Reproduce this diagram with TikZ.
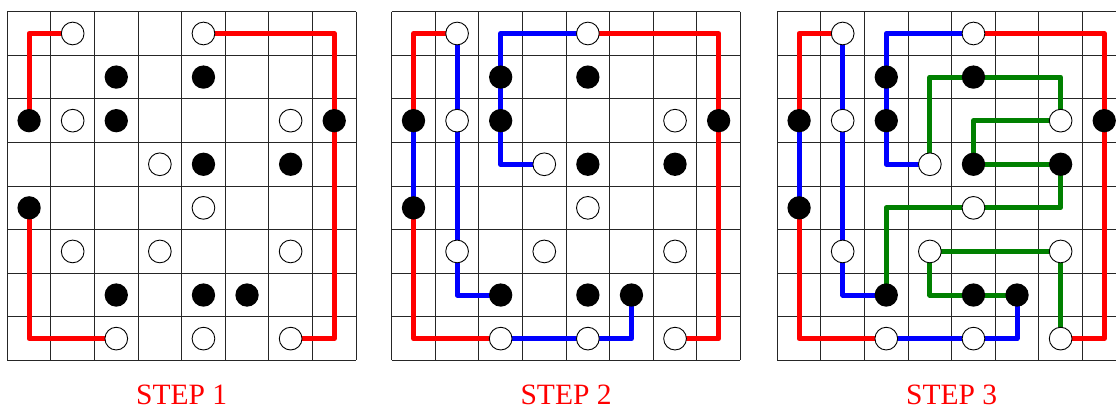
\documentclass[tikz,border=0pt]{standalone}
\usepackage{fontspec}
\setmainfont{Liberation Serif}
\tikzset{
  gridline/.style={line width=0.9pt, black!85},
  redpath/.style={line width=5pt, red, line join=round},
  bluepath/.style={line width=5pt, blue, line join=round},
  greenpath/.style={line width=5pt, green!50!black, line join=round},
  whitestone/.style={circle, draw=black, fill=white, line width=0.9pt, minimum size=22.7pt, inner sep=0pt},
  blackstone/.style={circle, fill=black, minimum size=23.3pt, inner sep=0pt},
  steplabel/.style={text=red, font=\fontsize{29.5}{32}\selectfont, anchor=base, inner sep=0pt},
}
\newcommand\boardcells[1]{%
  \foreach \i in {0,...,8}{\draw[gridline] (\i,0) -- (\i,8); \draw[gridline] (0,\i) -- (8,\i);}%
  \foreach \c in {1,...,8}{\foreach \r in {1,...,8}{\coordinate (#1-\c-\r) at (\c-0.5,\r-0.5);}}%
}
\newcommand\boardstones[1]{%
  \foreach \c/\r in {2/1,5/1,2/3,7/3,4/4,5/5,2/6,4/6,7/6,3/8,5/8,7/8}{\node[whitestone] (#1-w-\c-\r) at (#1-\c-\r) {};}%
  \foreach \c/\r in {3/2,5/2,1/3,3/3,8/3,5/4,7/4,1/5,3/7,5/7,6/7}{\node[blackstone] (#1-b-\c-\r) at (#1-\c-\r) {};}%
}
\newcommand\redpaths[1]{%
  \draw[redpath] (#1-2-1) -| (#1-1-3);
  \draw[redpath] (#1-5-1) -| (#1-8-8) -- (#1-7-8);
  \draw[redpath] (#1-1-5) |- (#1-3-8);
}
\newcommand\bluepaths[1]{%
  \draw[bluepath] (#1-2-1) |- (#1-3-7);
  \draw[bluepath] (#1-5-1) -| (#1-3-4) -- (#1-4-4);
  \draw[bluepath] (#1-1-3) -- (#1-1-5);
  \draw[bluepath] (#1-3-8) -| (#1-6-7);
}
\begin{document}
\begin{tikzpicture}[x=1pt,y=-1pt]
\clip (0,0) rectangle (1116,409);
\fill[white] (0,0) rectangle (1116,409);
% Step 1
\begin{scope}[shift={(7.3,11.7)}, x=43.59pt, y=-43.59pt]
  \boardcells{A}
  \redpaths{A}
  \boardstones{A}
  \node[steplabel] (labA) at (4,9) {STEP 1};
\end{scope}
% Step 2
\begin{scope}[shift={(391.7,11.7)}, x=43.59pt, y=-43.59pt]
  \boardcells{B}
  \redpaths{B}
  \bluepaths{B}
  \boardstones{B}
  \node[steplabel] (labB) at (4,9) {STEP 2};
\end{scope}
% Step 3
\begin{scope}[shift={(777.3,11.7)}, x=43.59pt, y=-43.59pt]
  \boardcells{C}
  \redpaths{C}
  \bluepaths{C}
  \draw[greenpath] (C-4-4) |- (C-7-2) -- (C-7-3) -| (C-5-4) -- (C-7-4) -- (C-7-5) -| (C-3-7);
  \draw[greenpath] (C-7-8) -- (C-7-6) -- (C-4-6) |- (C-6-7);
  \boardstones{C}
  \node[steplabel] (labC) at (4,9) {STEP 3};
\end{scope}
\end{tikzpicture}
\end{document}
